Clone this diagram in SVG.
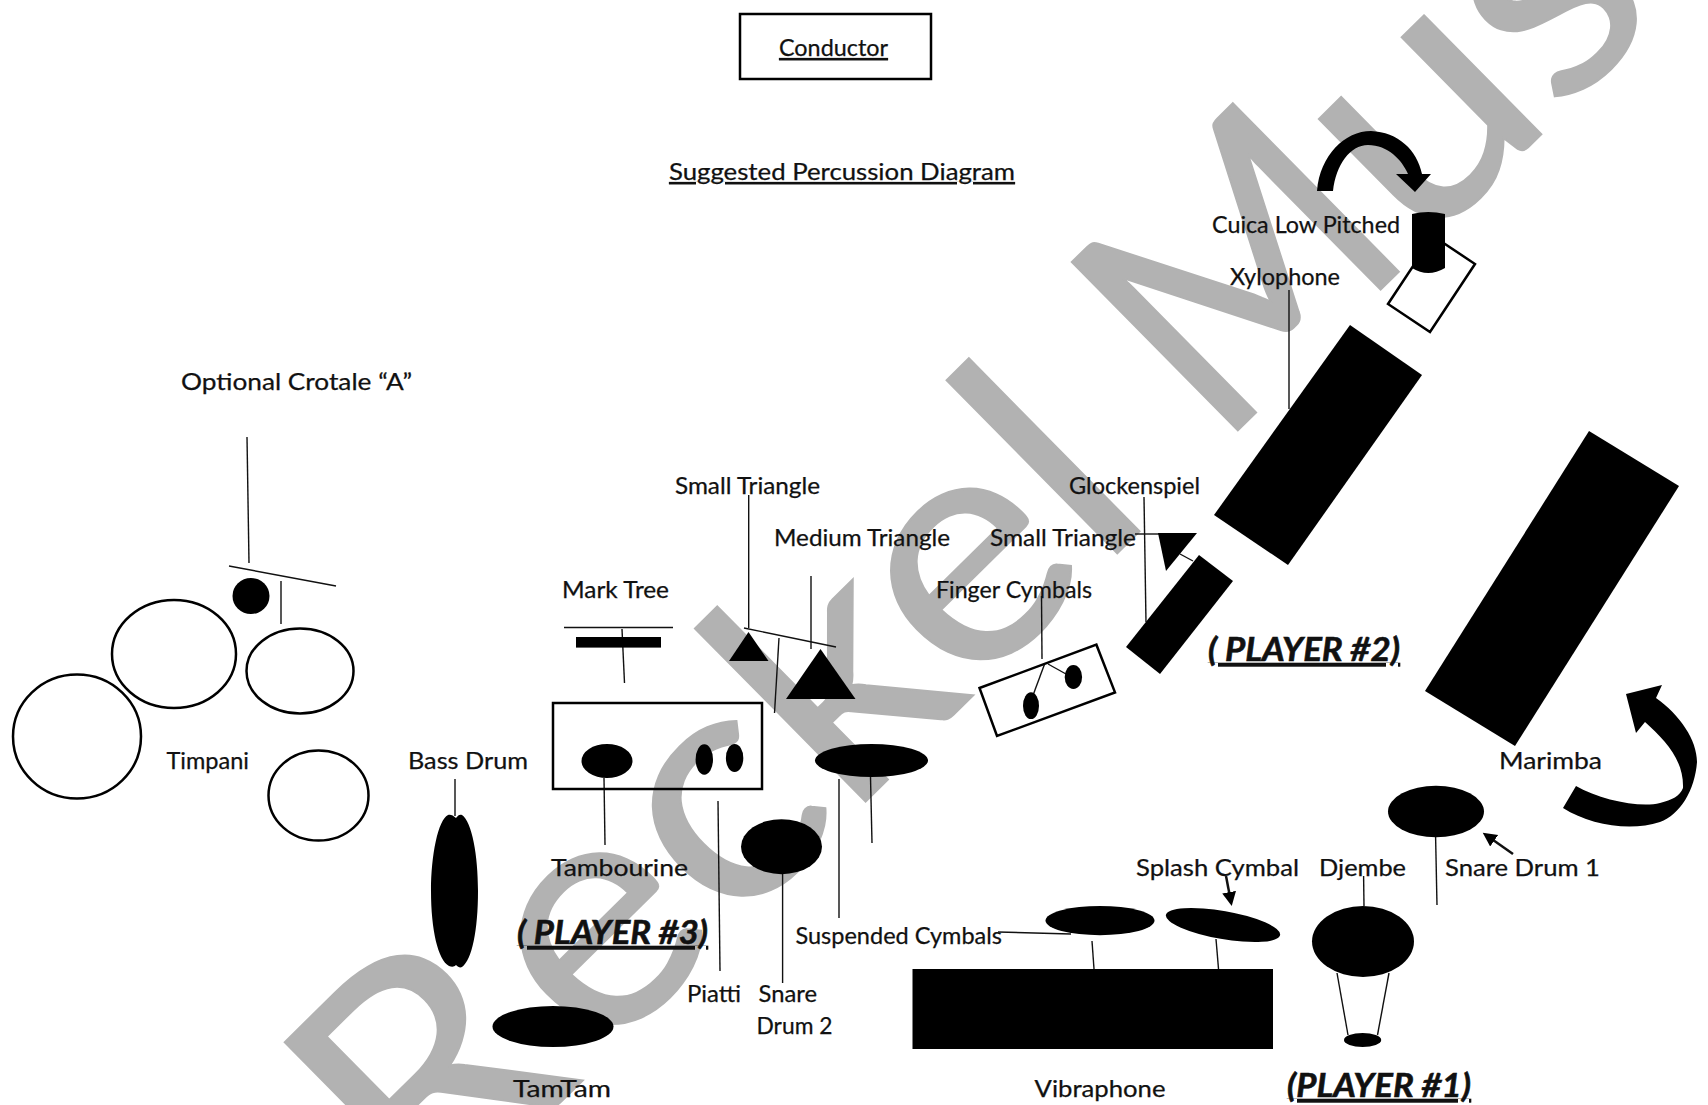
<svg xmlns="http://www.w3.org/2000/svg" width="1708" height="1105" viewBox="0 0 1708 1105">
<style>
text{font-family:Lato,"Open Sans","Liberation Sans",sans-serif;font-size:23px;fill:#111;stroke:#111;stroke-width:.25}
.u{text-decoration:underline}
.p{font-size:33px;font-weight:bold;font-style:italic;text-decoration:underline;stroke-width:.6}
text.wm{font-size:330px;fill:#b2b2b2;stroke:#b2b2b2;stroke-width:2}
.k{fill:#000;stroke:none}
.o{fill:none;stroke:#000;stroke-width:2.5}
#connectors line{stroke:#111;stroke-width:1.4}
</style>
<defs>
<marker id="ah" markerWidth="16" markerHeight="16" refX="10" refY="7" orient="auto" markerUnits="userSpaceOnUse"><path d="M0,0L14,7L0,14Z" fill="#000"/></marker>
</defs>
<rect width="1708" height="1105" fill="#fff"/>
<g id="watermark">
<text class="wm" transform="translate(428 1233) rotate(-44.6) scale(1.06 1)">R<tspan dx="18">eckel</tspan></text>
<text class="wm" transform="translate(1218 450) rotate(-44.6) scale(.92 1)">M</text>
<text class="wm" transform="translate(1420 254) rotate(-44.6) scale(1.06 1)">us</text>
</g>
<g id="connectors">
<line x1="247" y1="437" x2="249" y2="563"/><line x1="229" y1="566" x2="336" y2="586"/><line x1="281" y1="581" x2="281" y2="624"/>
<line x1="455" y1="779" x2="455" y2="816"/>
<line x1="564" y1="627.5" x2="673" y2="627.5"/><line x1="622" y1="629" x2="624.5" y2="683"/>
<line x1="604" y1="778" x2="605" y2="845"/><line x1="718" y1="801" x2="720" y2="971"/><line x1="782.6" y1="874" x2="782.6" y2="983"/>
<line x1="839" y1="779" x2="839" y2="918"/><line x1="870.5" y1="777" x2="872" y2="843"/>
<line x1="744" y1="628" x2="836" y2="647"/><line x1="748.7" y1="495" x2="748.7" y2="628"/><line x1="811" y1="576" x2="811" y2="649"/><line x1="779" y1="638" x2="774.5" y2="713"/>
<line x1="1041.5" y1="596" x2="1042" y2="659"/><line x1="1044.6" y1="664" x2="1033.5" y2="694"/><line x1="1048" y1="664" x2="1066" y2="674"/>
<line x1="998" y1="932" x2="1071" y2="934"/><line x1="1092" y1="941" x2="1094" y2="969"/><line x1="1216" y1="939" x2="1218.6" y2="970"/>
<line x1="1226" y1="876" x2="1231" y2="902" marker-end="url(#ah)" style="stroke-width:2.5"/>
<line x1="1363.6" y1="876" x2="1364" y2="906"/><line x1="1337" y1="973" x2="1348" y2="1035"/><line x1="1389" y1="973" x2="1377.5" y2="1035"/>
<line x1="1435.6" y1="837" x2="1437" y2="905"/>
<line x1="1513" y1="854" x2="1486" y2="835" marker-end="url(#ah)" style="stroke-width:2.5"/>
<line x1="1289" y1="290" x2="1289" y2="409"/>
<line x1="1144" y1="497" x2="1146" y2="622"/><line x1="1135" y1="534" x2="1160" y2="534"/><line x1="1180" y1="554" x2="1193" y2="561"/>
</g>
<g id="conductor"><rect class="o" x="740" y="14" width="191" height="65"/><text class="u" x="779" y="56" textLength="109" lengthAdjust="spacingAndGlyphs">Conductor</text></g>
<text class="u" x="669" y="180" textLength="346" lengthAdjust="spacingAndGlyphs">Suggested Percussion Diagram</text>
<g id="timpani">
<ellipse class="o" cx="77" cy="736.5" rx="64" ry="62"/><ellipse class="o" cx="174" cy="654" rx="62" ry="54"/><ellipse class="o" cx="300" cy="671" rx="53.5" ry="42.5"/><ellipse class="o" cx="318.5" cy="795.5" rx="50" ry="45"/>
<text x="166.5" y="768.5" textLength="82.5" lengthAdjust="spacingAndGlyphs">Timpani</text>
</g>
<g id="crotale"><ellipse class="k" cx="251" cy="596" rx="18.5" ry="18"/><text x="181" y="390" textLength="231" lengthAdjust="spacingAndGlyphs">Optional Crotale “A”</text></g>
<g id="bass-drum"><path class="k" d="M456,818C453,815 450,814 448,815C438,820 431,855 431,891C431,930 438,960 449,966C452,967 454,967 456,965C458,967 460,968 462,967C472,960 478,930 478,891C478,855 472,822 462,815C460,814 458,815 456,818Z"/><text x="408" y="768.5" textLength="120" lengthAdjust="spacingAndGlyphs">Bass Drum</text></g>
<g id="tamtam"><ellipse class="k" cx="553" cy="1026.5" rx="60.5" ry="20.5"/><text x="513" y="1096.5" textLength="98" lengthAdjust="spacingAndGlyphs">TamTam</text></g>
<g id="mark-tree"><rect class="k" x="576" y="637" width="85" height="10.6"/><text x="562" y="598" textLength="107" lengthAdjust="spacingAndGlyphs">Mark Tree</text></g>
<g id="tray"><rect class="o" x="553" y="703" width="209" height="86"/><ellipse class="k" cx="607" cy="761" rx="25.5" ry="17"/><ellipse class="k" cx="704.3" cy="759.5" rx="8.7" ry="15.3"/><ellipse class="k" cx="734.6" cy="758" rx="8.7" ry="14"/></g>
<text x="551" y="875.5" textLength="137" lengthAdjust="spacingAndGlyphs">Tambourine</text>
<text class="p" x="517" y="944" textLength="191" lengthAdjust="spacingAndGlyphs">( PLAYER #3)</text>
<text x="687" y="1001.5" textLength="54" lengthAdjust="spacingAndGlyphs">Piatti</text>
<g id="snare-2"><ellipse class="k" cx="781.5" cy="846.7" rx="40.5" ry="27.5"/><text x="758.5" y="1001.5" textLength="58.5" lengthAdjust="spacingAndGlyphs">Snare</text><text x="756.5" y="1034" textLength="76" lengthAdjust="spacingAndGlyphs">Drum 2</text></g>
<g id="suspended-cymbals"><ellipse class="k" cx="871.5" cy="760.5" rx="56.5" ry="16.5"/><ellipse class="k" cx="1100" cy="920.6" rx="54.5" ry="14.6"/><text x="795.5" y="944" textLength="206.5" lengthAdjust="spacingAndGlyphs">Suspended Cymbals</text></g>
<g id="triangles-left"><polygon class="k" points="748.5,632 729,661 768.5,661"/><polygon class="k" points="820.5,649 786,699 855.5,699"/><text x="675" y="494" textLength="145" lengthAdjust="spacingAndGlyphs">Small Triangle</text><text x="774" y="546" textLength="176" lengthAdjust="spacingAndGlyphs">Medium Triangle</text></g>
<g id="finger-cymbals"><polygon class="o" points="979.5,688 1096.4,644.7 1115,692.4 997,736"/><ellipse class="k" cx="1031" cy="705.7" rx="8" ry="13.4"/><ellipse class="k" cx="1073.4" cy="677" rx="8.7" ry="11.9"/><text x="936" y="598" textLength="156" lengthAdjust="spacingAndGlyphs">Finger Cymbals</text></g>
<g id="glockenspiel"><polygon class="k" points="1199,555 1233,581 1160,674 1126,647"/><polygon class="k" points="1158,533 1197,533 1166,571"/><text x="1069" y="494" textLength="131" lengthAdjust="spacingAndGlyphs">Glockenspiel</text><text x="990" y="545.5" textLength="146" lengthAdjust="spacingAndGlyphs">Small Triangle</text></g>
<g id="xylophone"><polygon class="k" points="1350,325 1422,375 1288,565 1214,515"/><text x="1230" y="285" textLength="110" lengthAdjust="spacingAndGlyphs">Xylophone</text></g>
<g id="cuica">
<polygon class="o" points="1433,236 1475,264 1430,332 1388,304"/>
<path class="k" d="M1412,214Q1428,210 1445,214V268Q1428,278 1412,268Z"/>
<path class="k" d="M1317,191C1320,155 1345,131 1371,131C1398,132 1417,150 1422,174L1431,174L1415,192L1396,174L1408,174C1402,160 1388,145 1368,145C1350,145 1336,165 1333,191Z"/>
<text x="1212" y="233" textLength="188" lengthAdjust="spacingAndGlyphs">Cuica Low Pitched</text>
</g>
<text class="p" x="1208" y="661" textLength="192" lengthAdjust="spacingAndGlyphs">( PLAYER #2)</text>
<g id="marimba"><polygon class="k" points="1589,431 1679,486 1515,746 1425,691"/><text x="1499" y="768.5" textLength="103" lengthAdjust="spacingAndGlyphs">Marimba</text>
<path class="k" d="M1576,786C1600,800 1640,808 1660,803C1672,800 1680,796 1683,788C1684,760 1665,740 1645,722L1636,733L1626,694L1662,685L1656,698C1680,715 1697,740 1697,762C1695,790 1680,815 1660,822C1630,832 1590,825 1563,808Z"/></g>
<g id="snare-1"><ellipse class="k" cx="1436" cy="811.5" rx="48" ry="25.7"/><text x="1445" y="876" textLength="155" lengthAdjust="spacingAndGlyphs">Snare Drum 1</text></g>
<g id="splash-cymbal"><ellipse class="k" cx="1223" cy="925" rx="58" ry="14" transform="rotate(10 1223 925)"/><text x="1136" y="876" textLength="163" lengthAdjust="spacingAndGlyphs">Splash Cymbal</text></g>
<g id="djembe"><ellipse class="k" cx="1363" cy="941.5" rx="51" ry="35.5"/><ellipse class="k" cx="1362.6" cy="1040" rx="18.6" ry="7"/><text x="1319" y="876" textLength="87" lengthAdjust="spacingAndGlyphs">Djembe</text></g>
<g id="vibraphone"><rect class="k" x="912.5" y="969" width="360.5" height="80"/><text x="1034.5" y="1096.5" textLength="131" lengthAdjust="spacingAndGlyphs">Vibraphone</text></g>
<text class="p" x="1287" y="1097" textLength="184" lengthAdjust="spacingAndGlyphs">(PLAYER #1)</text>
</svg>
